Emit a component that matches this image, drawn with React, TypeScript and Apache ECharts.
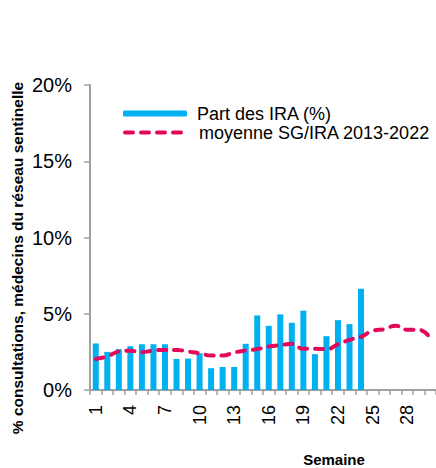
import React, { useEffect, useRef } from "react";
import * as echarts from "echarts";

const weeks = Array.from({ length: 30 }, (_, i) => String(i + 1));
const iraShare = [3.05, 2.5, 2.68, 2.87, 3.0, 3.0, 3.0, 2.04, 2.06, 2.41, 1.43, 1.51, 1.51, 3.03, 4.89, 4.21, 4.96, 4.41, 5.2, 2.35, 3.53, 4.58, 4.32, 6.64];
const avgSgIra = [2.04, 2.2, 2.52, 2.57, 2.48, 2.59, 2.63, 2.63, 2.52, 2.41, 2.26, 2.26, 2.46, 2.59, 2.68, 2.85, 2.94, 3.03, 2.7, 2.7, 2.68, 3.0, 3.29, 3.49, 3.88, 3.99, 4.21, 3.95, 3.95, 3.4];
const yTicks = [0, 5, 10, 15, 20];
const barName = "Part des IRA (%)";
const lineName = "moyenne SG/IRA 2013-2022";
const yTitle = "% consultations, médecins du réseau sentinelle";
const xTitle = "Semaine";

const FONT = "Liberation Sans, Arial, sans-serif";
const BAR = "#00B0F0";
const LINE = "#E4085A";
const AXIS = "#A0A0A0";
const DASH = [8, 8];

export default function App() {
  const ref = useRef<HTMLDivElement>(null);
  useEffect(() => {
    document.body.style.margin = "0";
    const chart = echarts.init(ref.current!, null, { renderer: "svg" });
    const legendBase = {
      orient: "horizontal",
      padding: 0,
      itemWidth: 64,
      itemHeight: 6,
      textStyle: { fontFamily: FONT, fontSize: 18, color: "#000", lineHeight: 20, padding: [0, 0, 0, 5] },
      selectedMode: false,
    };
    chart.setOption({
      animation: false,
      grid: { left: 90, right: -4, top: 85, bottom: 78, containLabel: false },
      legend: [
        { ...legendBase, left: 123, top: 103.5, data: [barName] },
        {
          ...legendBase,
          left: 123,
          top: 122.5,
          data: [lineName],
          itemStyle: { opacity: 0 },
          lineStyle: { color: LINE, width: 4, type: DASH, cap: "round", opacity: 1 },
        },
      ],
      xAxis: {
        type: "category",
        data: weeks,
        boundaryGap: true,
        axisLine: { lineStyle: { color: AXIS, width: 2 } },
        axisTick: { show: true, interval: 0, length: 5, lineStyle: { color: AXIS, width: 1.5 } },
        axisLabel: { interval: 2, rotate: 90, margin: 15, fontFamily: FONT, fontSize: 18, color: "#000" },
      },
      yAxis: {
        type: "value",
        min: yTicks[0],
        max: yTicks[yTicks.length - 1],
        interval: 5,
        splitLine: { show: false },
        axisLine: { show: true, lineStyle: { color: AXIS, width: 2 } },
        axisTick: { show: true, length: 6, lineStyle: { color: AXIS, width: 1.5 } },
        axisLabel: { formatter: "{value}%", margin: 18, fontFamily: FONT, fontSize: 20, color: "#000" },
      },
      graphic: [
        {
          type: "text",
          x: 17,
          y: 258,
          rotation: Math.PI / 2,
          style: { text: yTitle, fontFamily: FONT, fontSize: 15.5, fontWeight: "bold", fill: "#000", align: "center", verticalAlign: "middle" },
        },
        {
          type: "text",
          x: 334,
          y: 459,
          style: { text: xTitle, fontFamily: FONT, fontSize: 15, fontWeight: "bold", fill: "#000", align: "center", verticalAlign: "middle" },
        },
      ],
      series: [
        {
          name: barName,
          type: "bar",
          data: iraShare,
          barWidth: "52%",
          itemStyle: { color: BAR },
        },
        {
          name: lineName,
          type: "line",
          data: avgSgIra,
          smooth: true,
          symbol: "none",
          lineStyle: { color: LINE, width: 4, type: DASH, cap: "round" },
          itemStyle: { color: LINE },
        },
      ],
    });
    return () => chart.dispose();
  }, []);
  return <div ref={ref} style={{ width: 436, height: 468 }} />;
}
